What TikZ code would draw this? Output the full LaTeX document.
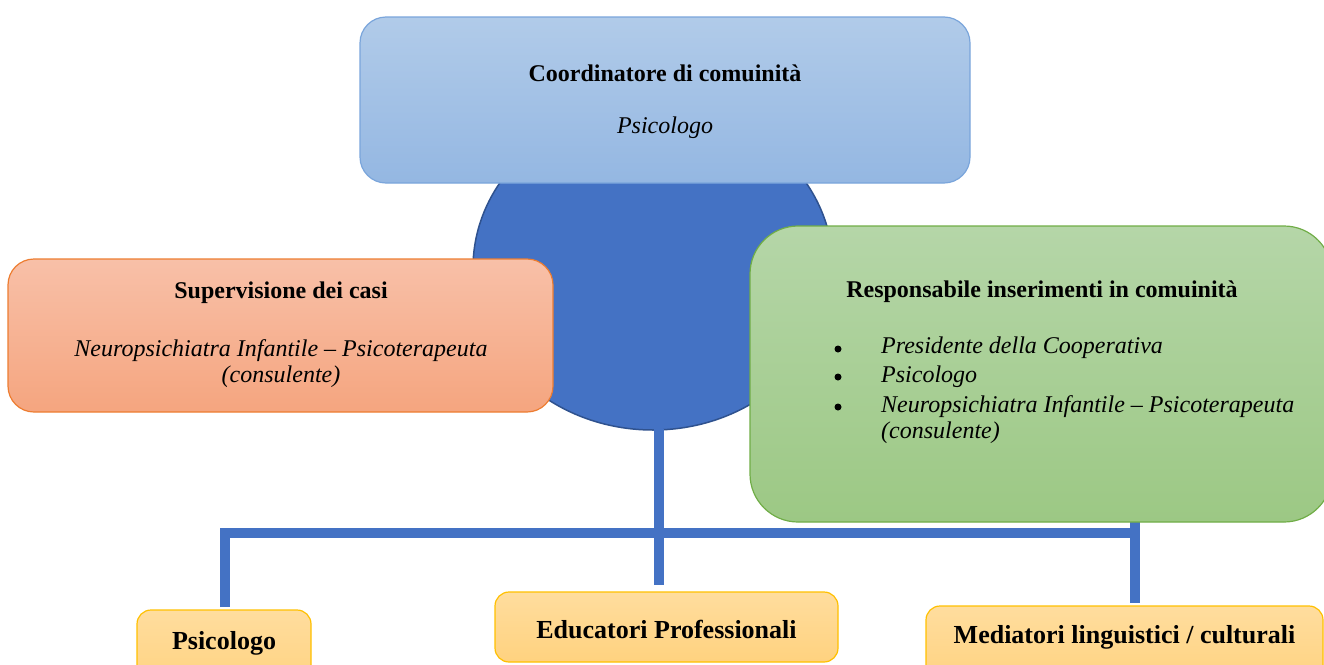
\documentclass[tikz,border=0pt]{standalone}
\usepackage{fontspec}
\setmainfont{Liberation Serif}
\usetikzlibrary{shapes.geometric}
\definecolor{hubfill}{HTML}{4472C4}
\definecolor{hubdraw}{HTML}{2F528F}
\definecolor{topA}{HTML}{B1CBE9}
\definecolor{topB}{HTML}{94B7E2}
\definecolor{topD}{HTML}{7AA5DB}
\definecolor{leftA}{HTML}{F8C0A8}
\definecolor{leftB}{HTML}{F5A57F}
\definecolor{leftD}{HTML}{ED7D31}
\definecolor{greenA}{HTML}{B5D6A8}
\definecolor{greenB}{HTML}{9CC884}
\definecolor{greenD}{HTML}{70AD47}
\definecolor{yelA}{HTML}{FFDD9E}
\definecolor{yelB}{HTML}{FFD27F}
\definecolor{yelD}{HTML}{FFC000}
\tikzset{
  bus/.style={draw=hubfill, line width=10pt, line cap=butt, line join=miter},
  boxbase/.style={rectangle, draw, line width=1.2pt, inner sep=0pt, align=center},
  topbox/.style={boxbase, draw=topD, top color=topA, bottom color=topB, rounded corners=26pt},
  leftbox/.style={boxbase, draw=leftD, top color=leftA, bottom color=leftB, rounded corners=26pt},
  greenbox/.style={boxbase, draw=greenD, top color=greenA, bottom color=greenB, rounded corners=48pt},
  lowbox/.style={boxbase, draw=yelD, top color=yelA, bottom color=yelB, rounded corners=14pt},
  txt/.style={font=\fontsize{24}{29}\selectfont, align=center, inner sep=0pt},
  bul/.style={circle, fill=black, minimum size=7pt, inner sep=0pt},
  lowtxt/.style={font=\fontsize{26}{31}\selectfont\bfseries, inner sep=0pt}
}
\begin{document}
\begin{tikzpicture}[x=1pt,y=-1pt]
\useasboundingbox (0,0) rectangle (1324,664);
\clip (0,0) rectangle (1324,664);
% hub ellipse
\node[ellipse, draw=hubdraw, fill=hubfill, line width=1.5pt, minimum width=360pt, minimum height=324pt, inner sep=0pt] (hub) at (653,268) {};
% bottom boxes
\node[lowbox, minimum width=174pt, minimum height=80pt] (psi) at (224,650) {};
\node[lowtxt] (psit) at (224,643) {Psicologo};
\node[lowbox, minimum width=343pt, minimum height=70pt] (edu) at (666.5,627) {};
\node[lowtxt] (edut) at (666.5,629) {Educatori Professionali};
\node[lowbox, minimum width=397pt, minimum height=80pt] (med) at (1124.5,646) {};
\node[lowtxt] (medt) at (1124.5,637) {Mediatori linguistici / culturali};
% connectors
\coordinate (busL) at (225,533);
\coordinate (busR) at (1135,533);
\coordinate (midEnd) at (659,585);
\coordinate (hubBottom) at (659,429);
\coordinate (psiTop) at (225,607);
\coordinate (medTop) at (1135,603);
\coordinate (greenBottom) at (1135,520);
\draw[bus] (psiTop) -- (busL) -- (busR);
\draw[bus] (hubBottom) -- (midEnd);
\draw[bus] (greenBottom) -- (medTop);
% top box
\node[topbox, minimum width=610pt, minimum height=166pt] (coord) at (665,100) {};
\node[txt, font=\fontsize{24}{29}\selectfont\bfseries] (coordt) at (665,73) {Coordinatore di comuinità};
\node[txt, font=\fontsize{24}{29}\selectfont\itshape] (coordp) at (665,128) {Psicologo};
% left box
\node[leftbox, minimum width=545pt, minimum height=153pt] (sup) at (280.5,335.5) {};
\node[txt, font=\fontsize{24}{29}\selectfont\bfseries] (supt) at (281,293) {Supervisione dei casi};
\node[txt, font=\fontsize{24}{26}\selectfont\itshape] (supp) at (281,364) {Neuropsichiatra Infantile – Psicoterapeuta\\(consulente)};
% green box
\node[greenbox, minimum width=582pt, minimum height=296pt] (resp) at (1041,374) {};
\node[txt, font=\fontsize{24}{29}\selectfont\bfseries] (respt) at (1042,292) {Responsabile inserimenti in comuinità};
\node[bul] (b1) at (838,349) {};
\node[bul] (b2) at (838,377) {};
\node[bul] (b3) at (838,407) {};
\node[txt, font=\fontsize{24}{29}\selectfont\itshape, anchor=west] (r1) at (881,348) {Presidente della Cooperativa};
\node[txt, font=\fontsize{24}{29}\selectfont\itshape, anchor=west] (r2) at (881,377) {Psicologo};
\node[txt, font=\fontsize{24}{26}\selectfont\itshape, anchor=north west, align=left] (r3) at (881,395) {Neuropsichiatra Infantile – Psicoterapeuta\\(consulente)};
\end{tikzpicture}
\end{document}
